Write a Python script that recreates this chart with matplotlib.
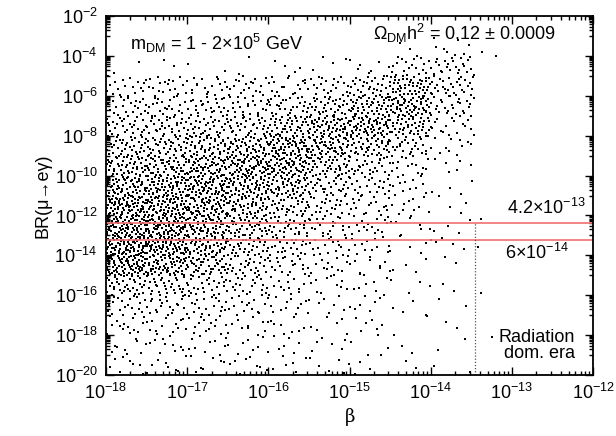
import numpy as np
import matplotlib.pyplot as plt
from matplotlib.ticker import FixedLocator, NullFormatter

plt.rcParams['font.family'] = ['Liberation Sans', 'DejaVu Sans']
plt.rcParams['mathtext.fontset'] = 'custom'
plt.rcParams['mathtext.rm'] = 'Liberation Sans'
plt.rcParams['mathtext.it'] = 'Liberation Sans:italic'

# log10(beta) bin edges and log10(BR) bin edges of the density table
beta_edges = [-18, -17.5, -17, -16.5, -16, -15.5, -15, -14.5, -14, -13.46]
br_edges = list(range(-3, -21, -1))   # rows: -3..-4 down to -19..-20

# number of scan points per cell (x2) (rows top -> bottom)
counts = [
    [0, 0, 0, 0, 0, 0, 0, 1, 4],
    [1, 1, 1, 1, 2, 2, 4, 10, 12],
    [9, 9, 9, 9, 9, 10, 15, 25, 15],
    [11, 11, 12, 12, 14, 18, 25, 30, 12],
    [14, 15, 16, 17, 22, 28, 30, 22, 8],
    [18, 20, 22, 26, 32, 30, 22, 14, 5],
    [24, 25, 30, 32, 32, 22, 14, 8, 3],
    [30, 32, 35, 30, 25, 16, 11, 6, 2],
    [38, 38, 32, 25, 18, 12, 9, 5, 2],
    [40, 38, 30, 22, 15, 10, 8, 4, 2],
    [42, 38, 28, 18, 12, 9, 6, 3, 2],
    [38, 32, 22, 14, 10, 7, 5, 2, 1],
    [18, 16, 13, 10, 7, 5, 4, 2, 1],
    [10, 10, 9, 8, 6, 4, 3, 2, 1],
    [7, 7, 7, 6, 4, 3, 3, 1, 1],
    [5, 5, 5, 4, 3, 3, 2, 1, 1],
    [4, 4, 4, 4, 3, 3, 2, 1, 1],
]
scale = 2

# isolated points beyond the radiation-era cut (log10 beta, log10 BR)
extra_beta = [-13.38, -13.42, -13.38, -13.25, -13.2, -13.37]
extra_br = [-12.2, -13.6, -15.9, -18.1, -4.0, -3.8]

beta_rad = 3.5e-14
br_lines = [4.2e-13, 6e-14]


def halton(i, b):
    f, r = 1.0, 0.0
    while i > 0:
        f /= b
        r += f * (i % b)
        i //= b
    return r


# spread each cell's points evenly inside the cell
lx, ly = [], []
idx = 0
for r, row in enumerate(counts):
    y0, y1 = br_edges[r + 1], br_edges[r]
    for c, n in enumerate(row):
        x0, x1 = beta_edges[c], beta_edges[c + 1]
        for k in range(n * scale):
            idx += 1
            lx.append(x0 + halton(idx, 2) * (x1 - x0))
            ly.append(y0 + halton(idx, 3) * (y1 - y0))
lx += extra_beta
ly += extra_br
bx = 10.0 ** np.array(lx)
by = 10.0 ** np.array(ly)

fig = plt.figure(figsize=(6.16, 4.36), dpi=100)
ax = fig.add_axes([0.172, 0.140, 0.791, 0.823])

ax.scatter(bx, by, s=1.6, marker='s', c='black', linewidths=0)
for v in br_lines:
    ax.axhline(v, color='#f07070', lw=1.2)
ax.plot([beta_rad, beta_rad], [1e-20, br_lines[0]], color='#555555', lw=0.9, ls=(0, (1, 1.5)))

ax.set_xscale('log')
ax.set_yscale('log')
ax.set_xlim(1e-18, 1e-12)
ax.set_ylim(1e-20, 1e-2)

xt = [10.0 ** e for e in range(-18, -11)]
ax.xaxis.set_major_locator(FixedLocator(xt))
ax.set_xticklabels([r'$10^{%d}$' % e for e in range(-18, -11)])
ax.xaxis.set_minor_locator(FixedLocator([k * 10.0 ** e for e in range(-18, -12) for k in range(2, 10)]))
yt = [10.0 ** e for e in range(-20, -1, 2)]
ax.yaxis.set_major_locator(FixedLocator(yt))
ax.set_yticklabels([r'$10^{%d}$' % e for e in range(-20, -1, 2)])
ax.yaxis.set_minor_locator(FixedLocator([k * 10.0 ** e for e in range(-19, -2, 2) for k in range(1, 10)]))
ax.xaxis.set_minor_formatter(NullFormatter())
ax.yaxis.set_minor_formatter(NullFormatter())

ax.tick_params(which='both', direction='in', top=True, right=True, labelsize=13, width=1.0)
ax.tick_params(which='major', length=6, pad=6)
ax.tick_params(which='minor', length=3)
for s in ax.spines.values():
    s.set_linewidth(1.3)

ax.set_xlabel('β', family=['DejaVu Serif'], fontsize=13, labelpad=3)
ax.set_ylabel('BR(μ→eγ)', fontsize=13, labelpad=2)

ax.text(0.049, 0.925, r'm$_{\rm DM}$ = 1 - 2×10$^5$ GeV', transform=ax.transAxes, fontsize=13,
        va='center')
ax.text(0.548, 0.953, r'$\Omega_{\rm DM}$h$^2$ = 0.12 ± 0.0009', transform=ax.transAxes, fontsize=13,
        va='center')
ax.text(0.984, 0.465, r'4.2×10$^{-13}$', transform=ax.transAxes, fontsize=13, ha='right', va='center')
ax.text(0.949, 0.34, r'6×10$^{-14}$', transform=ax.transAxes, fontsize=13, ha='right', va='center')
ax.text(0.963, 0.036, 'Radiation\ndom. era', transform=ax.transAxes, fontsize=13, ha='right',
        va='bottom', linespacing=0.95)

fig.savefig('out.png', dpi=100)
